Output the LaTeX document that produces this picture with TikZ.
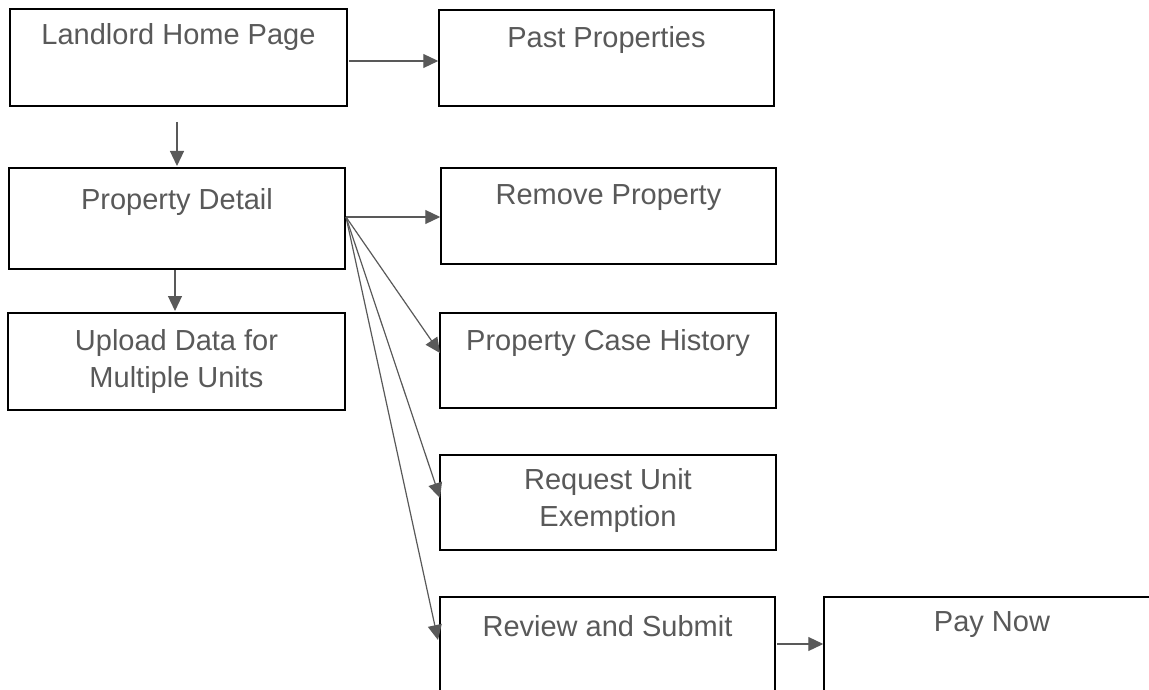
\documentclass[tikz,border=0pt]{standalone}
\usepackage{fontspec}
\setmainfont{Liberation Sans}
\usepackage{xcolor}
\usetikzlibrary{arrows.meta,positioning}

\definecolor{txtgray}{HTML}{595959}
\tikzset{
  box/.style={draw=black, line width=1.5pt, fill=white, rectangle, inner sep=0pt},
  lbl/.style={text=txtgray, font=\fontsize{29}{37}\selectfont, align=center, inner sep=0pt},
  arr/.style={draw=txtgray, line width=1.2pt, -{Triangle[length=15pt,width=14pt]}}
}

\begin{document}
\begin{tikzpicture}[x=1pt,y=-1pt]
\useasboundingbox (0,0) rectangle (1149,690);
\clip (0,0) rectangle (1149,690);

% Left column
\node[box, minimum width=337pt, minimum height=97pt] (home) at (178.5,57.5) {};
\node[lbl] (homet) at (178.5,37) {Landlord Home Page};

\node[box, minimum width=336pt, minimum height=101pt] (detail) at (177,218.5) {};
\node[lbl] (detailt) at (177,202) {Property Detail};

\node[box, minimum width=337pt, minimum height=97pt] (upload) at (176.5,361.5) {};
\node[lbl] (uploadt) at (176.5,362) {Upload Data for\\Multiple Units};

% Right column
\node[box, minimum width=335pt, minimum height=96pt] (past) at (606.5,58) {};
\node[lbl] (pastt) at (606.5,40) {Past Properties};

\node[box, minimum width=335pt, minimum height=96pt] (remove) at (608.5,216) {};
\node[lbl] (removet) at (608.5,198) {Remove Property};

\node[box, minimum width=336pt, minimum height=95pt] (history) at (608,360.5) {};
\node[lbl] (historyt) at (608,343) {Property Case History};

\node[box, minimum width=336pt, minimum height=95pt] (exempt) at (608,502.5) {};
\node[lbl] (exemptt) at (608,500) {Request Unit\\Exemption};

% Bottom row (runs off the page)
\node[box, minimum width=335pt, minimum height=110pt] (review) at (607.5,652) {};
\node[lbl] (reviewt) at (607.5,626) {Review and Submit};

\node[box, minimum width=340pt, minimum height=110pt] (pay) at (994,652) {};
\node[lbl] (payt) at (992,625) {Pay Now};

% Connector ends
\coordinate (homeS) at (177,122);
\coordinate (homeE) at (349,61);
\coordinate (detailN) at (177,166);
\coordinate (detailS) at (175,270);
\coordinate (uploadN) at (175,311);
\coordinate (detailE) at (346,217);
\coordinate (historyW) at (440,353);
\coordinate (exemptW) at (440,498);
\coordinate (reviewW) at (438,640);
\coordinate (reviewE) at (777,644);

% Connectors
\draw[arr] (homeE) -- (past.west |- homeE);
\draw[arr] (homeS) -- (detailN);
\draw[arr] (detailS) -- (uploadN);
\draw[arr] (detailE) -- (remove.west |- detailE);
\draw[arr] (detailE) -- (historyW);
\draw[arr] (detailE) -- (exemptW);
\draw[arr] (detailE) -- (reviewW);
\draw[arr] (reviewE) -- (pay.west |- reviewE);
\end{tikzpicture}
\end{document}
